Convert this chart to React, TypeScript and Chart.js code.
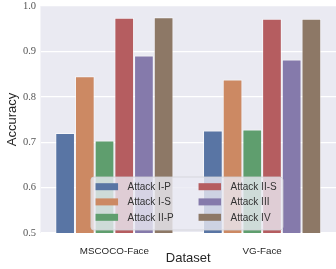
import React, { useEffect, useRef } from "react";
import { Chart, registerables } from "chart.js";

Chart.register(...registerables);

const categories = ["MSCOCO-Face", "VG-Face"];
const seriesNames = ["Attack I-P", "Attack I-S", "Attack II-P", "Attack II-S", "Attack III", "Attack IV"];
const attackIP = [0.72, 0.726];
const attackIS = [0.845, 0.838];
const attackIIP = [0.704, 0.728];
const attackIIS = [0.974, 0.972];
const attackIII = [0.891, 0.882];
const attackIV = [0.975, 0.972];
const seriesValues = [attackIP, attackIS, attackIIP, attackIIS, attackIII, attackIV];
const seriesColors = ["#5975A4", "#CC8963", "#5F9E6E", "#B55D60", "#857AAB", "#8D7866"];
const yTicks = [0.5, 0.6, 0.7, 0.8, 0.9, 1.0];

const SANS = "'Liberation Sans', 'DejaVu Sans', sans-serif";
const SERIF = "'Liberation Serif', 'DejaVu Serif', serif";

const bgPlugin = {
  id: "bgPlugin",
  beforeDraw(chart: any) {
    const { ctx, chartArea } = chart;
    ctx.save();
    ctx.fillStyle = "#EAEAF2";
    ctx.fillRect(chartArea.left, chartArea.top, chartArea.right - chartArea.left, chartArea.bottom - chartArea.top);
    ctx.restore();
  },
};

const legendPlugin = {
  id: "colLegend",
  afterDatasetsDraw(chart: any) {
    const { ctx, chartArea } = chart;
    const w = 192;
    const h = 53;
    const cx = (chartArea.left + chartArea.right) / 2 - 1.3;
    const left = cx - w / 2;
    const top = chartArea.bottom - 3 - h;
    ctx.save();
    const r = 3;
    ctx.beginPath();
    ctx.moveTo(left + r, top);
    ctx.lineTo(left + w - r, top);
    ctx.quadraticCurveTo(left + w, top, left + w, top + r);
    ctx.lineTo(left + w, top + h - r);
    ctx.quadraticCurveTo(left + w, top + h, left + w - r, top + h);
    ctx.lineTo(left + r, top + h);
    ctx.quadraticCurveTo(left, top + h, left, top + h - r);
    ctx.lineTo(left, top + r);
    ctx.quadraticCurveTo(left, top, left + r, top);
    ctx.closePath();
    ctx.fillStyle = "rgba(234,234,242,0.8)";
    ctx.fill();
    ctx.strokeStyle = "rgba(210,210,215,0.8)";
    ctx.lineWidth = 1;
    ctx.stroke();

    const rows = [9.7, 24.9, 40.3];
    const cols = [4.6, 107.6];
    const textOff = 32;
    ctx.font = `10px ${SANS}`;
    ctx.textBaseline = "middle";
    ctx.textAlign = "left";
    chart.data.datasets.forEach((ds: any, i: number) => {
      const col = Math.floor(i / 3);
      const row = i % 3;
      const x = left + cols[col];
      const y = top + rows[row];
      ctx.fillStyle = ds.backgroundColor;
      ctx.fillRect(x, y - 3.5, 22.5, 7);
      ctx.fillStyle = "#333333";
      ctx.fillText(ds.label, x + textOff, y + 0.5);
    });
    ctx.restore();
  },
};

export default function App() {
  const ref = useRef<HTMLCanvasElement | null>(null);
  useEffect(() => {
    if (!ref.current) return;
    const chart = new Chart(ref.current, {
      type: "bar",
      data: {
        labels: categories,
        datasets: seriesNames.map((name, i) => ({
          label: name,
          data: seriesValues[i],
          backgroundColor: seriesColors[i],
          borderColor: "rgba(255,255,255,0.55)",
          borderWidth: 1,
          categoryPercentage: 0.8,
          barPercentage: 1.0,
        })),
      },
      options: {
        animation: false,
        responsive: true,
        maintainAspectRatio: false,
        layout: { padding: { top: 6, right: 0, bottom: 0, left: 0 } },
        plugins: {
          legend: { display: false },
          tooltip: { enabled: false },
        },
        scales: {
          x: {
            grid: { display: false },
            border: { display: false },
            ticks: {
              padding: 4,
              color: "#262626",
              font: { family: SANS, size: 9.8 },
            },
            title: {
              display: true,
              text: "Dataset",
              color: "#262626",
              font: { family: SANS, size: 13 },
              padding: { top: 0, bottom: 3 },
            },
            afterFit(scale: any) {
              scale.height = 36;
              scale.paddingLeft = 0;
              scale.paddingRight = 0;
            },
          },
          y: {
            min: 0.5,
            max: 1.0,
            afterBuildTicks(scale: any) {
              scale.ticks = yTicks.map((v) => ({ value: v }));
            },
            grid: { color: "#FFFFFF", lineWidth: 1.2, drawTicks: false },
            border: { display: false },
            ticks: {
              padding: 4.5,
              color: "#555555",
              font: { family: SERIF, size: 10.5 },
              callback: (v: any) => Number(v).toFixed(1),
            },
            title: {
              display: true,
              text: "Accuracy",
              color: "#262626",
              font: { family: SANS, size: 13 },
              padding: { top: 5, bottom: 0 },
            },
            afterFit(scale: any) {
              scale.width = 40.5;
              scale.paddingTop = 0;
              scale.paddingBottom = 0;
            },
          },
        },
      },
      plugins: [bgPlugin, legendPlugin],
    });
    return () => chart.destroy();
  }, []);
  return (
    <div style={{ position: "fixed", left: 0, top: 0, width: 336, height: 269 }}>
      <canvas ref={ref} />
    </div>
  );
}
